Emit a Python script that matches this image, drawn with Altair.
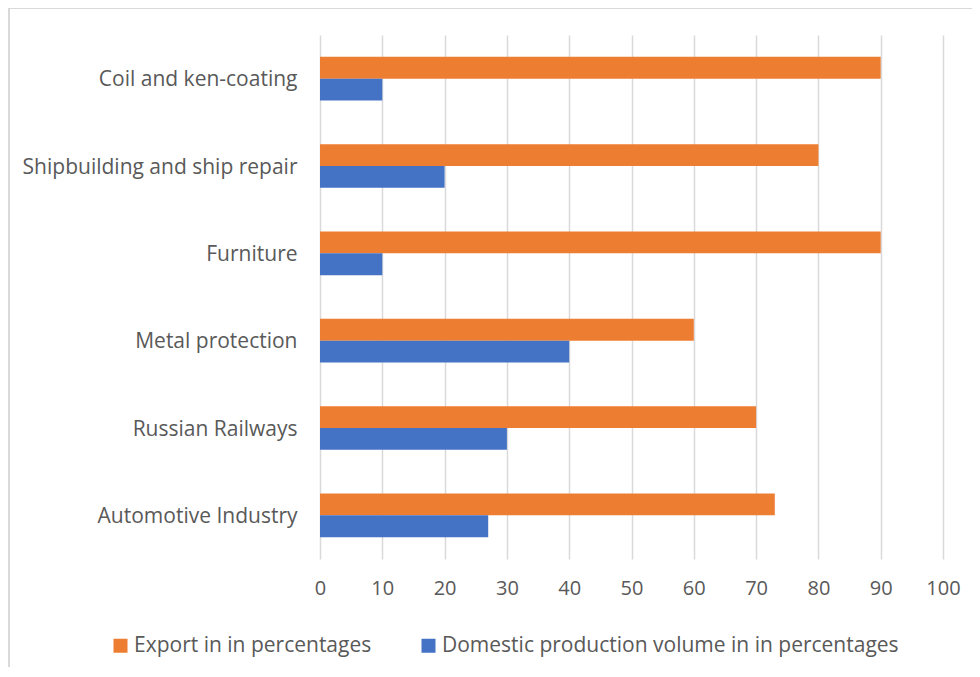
import altair as alt
import pandas as pd

categories = ["Coil and ken-coating", "Shipbuilding and ship repair", "Furniture",
              "Metal protection", "Russian Railways\u00a0", "Automotive Industry"]
export_vals = [90, 80, 90, 60, 70, 73]
domestic_vals = [10, 20, 10, 40, 30, 27]
series = ["Export in in percentages", "Domestic production volume in in percentages"]
colors = ["#ED7D31", "#4472C4"]
x_ticks = [0, 10, 20, 30, 40, 50, 60, 70, 80, 90, 100]

rows = []
for c, e, d in zip(categories, export_vals, domestic_vals):
    rows.append({"category": c, "series": series[0], "value": e})
    rows.append({"category": c, "series": series[1], "value": d})
df = pd.DataFrame(rows)

FONT = "Open Sans"
TXT = "#595959"
GRID = "#D9D9D9"

bars = alt.Chart(df).mark_bar().encode(
    y=alt.Y("category:N", sort=categories, title=None,
            scale=alt.Scale(paddingInner=0.5, paddingOuter=0.25),
            axis=alt.Axis(domain=False, ticks=False, labelFont=FONT, labelFontSize=21,
                          labelColor=TXT, labelPadding=23, labelLimit=400, labelOffset=1.5)),
    yOffset=alt.YOffset("series:N", sort=series, scale=alt.Scale(paddingInner=0, paddingOuter=0)),
    x=alt.X("value:Q", title=None, scale=alt.Scale(domain=[0, 100]),
            axis=alt.Axis(values=x_ticks, domain=False, ticks=False, grid=True,
                          gridColor=GRID, gridWidth=1.5, labelFont=FONT, labelFontSize=20,
                          labelColor=TXT, labelPadding=19, labelFlush=False)),
    color=alt.Color("series:N", sort=series,
                    scale=alt.Scale(domain=series, range=colors),
                    legend=alt.Legend(title=None, orient="none", direction="horizontal",
                                      legendX=-210, legendY=600, symbolType="square",
                                      symbolSize=196, symbolStrokeWidth=0,
                                      labelFont=FONT, labelFontSize=21, labelColor=TXT,
                                      labelOffset=3, columnPadding=46, labelLimit=600,
                                      padding=0)),
)

left_border = alt.Chart(df).mark_rule(color=GRID, strokeWidth=1.5).encode(
    x=alt.value(-311), y=alt.value(-27), y2=alt.value(632))
top_border = alt.Chart(df).mark_rule(color=GRID, strokeWidth=1.5).encode(
    x=alt.value(-311), x2=alt.value(652), y=alt.value(-27))

chart = alt.layer(bars, left_border, top_border).properties(
    width=623, height=524,
    padding={"left": 312, "top": 27, "right": 29, "bottom": 108},
    autosize=alt.AutoSizeParams(type="none"),
).configure_view(stroke=None)

chart.save("out.html", embed_options={"renderer": "svg", "actions": False})
